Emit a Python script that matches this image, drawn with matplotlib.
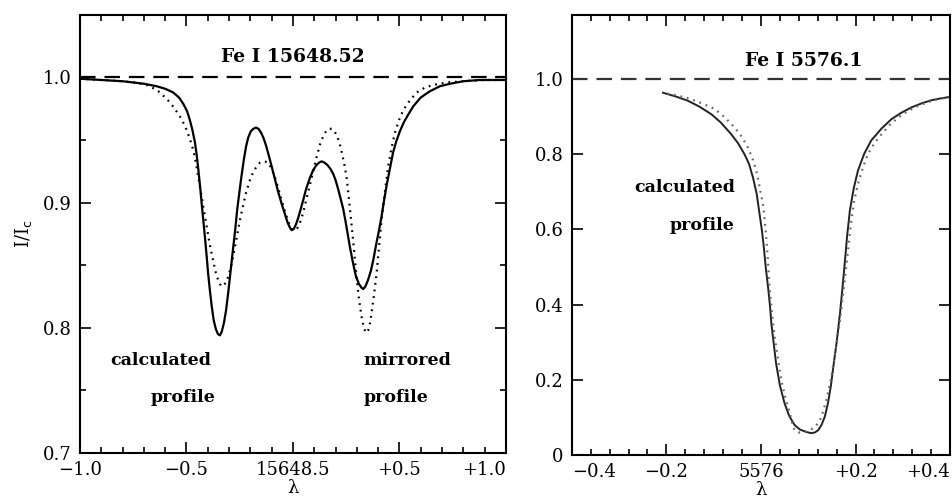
import numpy as np
import matplotlib
matplotlib.use("Agg")
import matplotlib.pyplot as plt
from matplotlib.ticker import MultipleLocator, FixedLocator

plt.rcParams['font.family'] = ['DejaVu Serif']
plt.rcParams['font.size'] = 13

# Fe I 15648.52 -- calculated profile (solid)
fe15_calc_x = [-1.0, -0.9, -0.8, -0.7, -0.64, -0.6, -0.562, -0.535, -0.515, -0.497, -0.484,
               -0.472, -0.46, -0.452, -0.444, -0.436, -0.429, -0.421, -0.413, -0.405, -0.398,
               -0.39, -0.382, -0.372, -0.362, -0.352, -0.343, -0.334, -0.324, -0.314, -0.304,
               -0.293, -0.282, -0.272, -0.262, -0.251, -0.241, -0.23, -0.22, -0.21, -0.198,
               -0.186, -0.174, -0.162, -0.15, -0.139, -0.127, -0.114, -0.1, -0.085, -0.07,
               -0.053, -0.038, -0.025, -0.014, -0.006, 0.004, 0.015, 0.025, 0.035, 0.048,
               0.062, 0.08, 0.095, 0.11, 0.123, 0.135, 0.148, 0.162, 0.176, 0.189, 0.2,
               0.212, 0.224, 0.236, 0.248, 0.258, 0.268, 0.283, 0.296, 0.31, 0.322, 0.33,
               0.34, 0.352, 0.365, 0.377, 0.39, 0.403, 0.416, 0.428, 0.44, 0.455, 0.47,
               0.485, 0.502, 0.52, 0.54, 0.565, 0.6, 0.643, 0.69, 0.737, 0.8, 0.878, 1.0]
fe15_calc_y = [0.999, 0.998, 0.997, 0.995, 0.993, 0.991, 0.988, 0.984, 0.979, 0.973, 0.966,
               0.958, 0.948, 0.938, 0.926, 0.913, 0.9, 0.886, 0.872, 0.857, 0.843,
               0.83, 0.818, 0.806, 0.799, 0.795, 0.794, 0.797, 0.804, 0.814, 0.828,
               0.845, 0.862, 0.877, 0.894, 0.909, 0.922, 0.935, 0.945, 0.952, 0.957,
               0.959, 0.96, 0.959, 0.956, 0.952, 0.946, 0.938, 0.929, 0.919, 0.909,
               0.899, 0.891, 0.884, 0.88, 0.878, 0.879, 0.883, 0.888, 0.894, 0.902,
               0.911, 0.92, 0.926, 0.93, 0.932, 0.933, 0.932, 0.93, 0.927, 0.923, 0.918,
               0.911, 0.903, 0.895, 0.884, 0.874, 0.864, 0.851, 0.841, 0.835, 0.832, 0.831,
               0.833, 0.838, 0.845, 0.854, 0.866, 0.877, 0.889, 0.902, 0.914, 0.927, 0.94,
               0.949, 0.957, 0.964, 0.97, 0.977, 0.984, 0.989, 0.993, 0.995, 0.997, 0.998, 0.998]

# Fe I 15648.52 -- mirrored profile (dotted)
fe15_mirr_x = [-1.0, -0.9, -0.8, -0.74, -0.687, -0.65, -0.624, -0.6, -0.577, -0.555, -0.531,
               -0.515, -0.499, -0.484, -0.468, -0.455, -0.445, -0.437, -0.426, -0.415, -0.405,
               -0.39, -0.374, -0.362, -0.351, -0.343, -0.335, -0.325, -0.312, -0.3, -0.288,
               -0.275, -0.262, -0.249, -0.235, -0.22, -0.202, -0.185, -0.17, -0.155, -0.135,
               -0.116, -0.1, -0.088, -0.077, -0.058, -0.038, -0.02, -0.005, 0.009, 0.022,
               0.035, 0.048, 0.062, 0.078, 0.095, 0.112, 0.128, 0.142, 0.155, 0.168, 0.182,
               0.195, 0.208, 0.221, 0.232, 0.242, 0.252, 0.264, 0.276, 0.288, 0.299, 0.31,
               0.322, 0.333, 0.343, 0.353, 0.362, 0.369, 0.381, 0.393, 0.405, 0.416, 0.432,
               0.447, 0.463, 0.479, 0.498, 0.518, 0.55, 0.581, 0.62, 0.659, 0.72, 0.8, 0.9, 1.0]
fe15_mirr_y = [0.999, 0.998, 0.997, 0.996, 0.994, 0.991, 0.988, 0.984, 0.98, 0.975, 0.969,
               0.964, 0.958, 0.951, 0.942, 0.931, 0.921, 0.913, 0.902, 0.891, 0.881,
               0.866, 0.853, 0.844, 0.838, 0.835, 0.833, 0.834, 0.837, 0.843, 0.851,
               0.862, 0.874, 0.886, 0.897, 0.908, 0.918, 0.925, 0.929, 0.932, 0.933,
               0.932, 0.927, 0.922, 0.916, 0.905, 0.893, 0.884, 0.879, 0.878, 0.88,
               0.885, 0.892, 0.902, 0.913, 0.925, 0.937, 0.947, 0.953, 0.957, 0.959, 0.959,
               0.957, 0.953, 0.946, 0.938, 0.93, 0.92, 0.901, 0.881, 0.86, 0.84, 0.823,
               0.809, 0.8, 0.796, 0.798, 0.804, 0.812, 0.827, 0.844, 0.866, 0.886, 0.909,
               0.929, 0.944, 0.956, 0.966, 0.974, 0.982, 0.988, 0.992, 0.994, 0.996, 0.997, 0.998, 0.998]

# Fe I 5576.1 -- calculated profile (solid)
fe55_calc_x = [-0.207, -0.18, -0.155, -0.13, -0.105, -0.085, -0.063, -0.048, -0.035, -0.025,
               -0.017, -0.009, -0.003, 0.002, 0.006, 0.01, 0.015, 0.019, 0.022, 0.027, 0.032,
               0.04, 0.05, 0.06, 0.071, 0.082, 0.094, 0.106, 0.114, 0.121, 0.128, 0.135,
               0.142, 0.148, 0.152, 0.16, 0.167, 0.172, 0.177, 0.182, 0.188, 0.196, 0.205,
               0.218, 0.233, 0.255, 0.276, 0.297, 0.318, 0.34, 0.36, 0.38, 0.4]
fe55_calc_y = [0.963, 0.953, 0.942, 0.926, 0.906, 0.884, 0.853, 0.828, 0.8, 0.773,
               0.738, 0.694, 0.641, 0.597, 0.553, 0.5, 0.446, 0.397, 0.349, 0.296, 0.243,
               0.185, 0.137, 0.103, 0.08, 0.068, 0.062, 0.058, 0.06, 0.066, 0.08, 0.102,
               0.14, 0.185, 0.225, 0.3, 0.376, 0.44, 0.508, 0.58, 0.65, 0.708, 0.756,
               0.8, 0.836, 0.868, 0.893, 0.91, 0.924, 0.935, 0.943, 0.948, 0.952]

# Fe I 5576.1 -- dotted profile
fe55_obs_x = [-0.198, -0.175, -0.15, -0.125, -0.098, -0.076, -0.056, -0.04, -0.028, -0.018,
              -0.01, -0.003, 0.004, 0.008, 0.011, 0.015, 0.018, 0.023, 0.029, 0.036, 0.043,
              0.052, 0.061, 0.066, 0.071, 0.08, 0.092, 0.104, 0.114, 0.122, 0.128, 0.138,
              0.149, 0.158, 0.167, 0.174, 0.181, 0.186, 0.191, 0.197, 0.205, 0.215, 0.226,
              0.24, 0.255, 0.272, 0.29, 0.31, 0.332, 0.353, 0.375, 0.4]
fe55_obs_y = [0.961, 0.955, 0.947, 0.935, 0.92, 0.897, 0.871, 0.845, 0.818, 0.789,
              0.756, 0.713, 0.668, 0.623, 0.579, 0.512, 0.446, 0.38, 0.314, 0.255, 0.199,
              0.15, 0.111, 0.085, 0.066, 0.06, 0.061, 0.066, 0.075, 0.086, 0.102, 0.145,
              0.208, 0.28, 0.358, 0.433, 0.508, 0.566, 0.623, 0.675, 0.721, 0.762, 0.8,
              0.829, 0.853, 0.877, 0.897, 0.914, 0.928, 0.938, 0.946, 0.952]

left_xticks = [-1.0, -0.5, 0.0, 0.5, 1.0]
left_xlabels = ['\u22121.0', '\u22120.5', '15648.5', '+0.5', '+1.0']
left_yticks = [0.7, 0.8, 0.9, 1.0]
left_ylabels = ['0.7', '0.8', '0.9', '1.0']
right_xticks = [-0.4, -0.2, 0.0, 0.2, 0.4]
right_xlabels = ['\u22120.4', '\u22120.2', '5576', '+0.2', '+0.4']
right_yticks = [0.0, 0.2, 0.4, 0.6, 0.8, 1.0]
right_ylabels = ['0', '0.2', '0.4', '0.6', '0.8', '1.0']

fig = plt.figure(figsize=(9.53, 5.03), dpi=100)
ax1 = fig.add_axes([0.0839, 0.0994, 0.447, 0.871])
ax2 = fig.add_axes([0.600, 0.0954, 0.397, 0.875])


def style(ax):
    for s in ax.spines.values():
        s.set_linewidth(1.5)
    ax.tick_params(which='both', direction='in', top=True, right=True, width=1.2, labelsize=13)
    ax.tick_params(which='major', length=8, pad=6)
    ax.tick_params(which='minor', length=4)


# left panel
ax1.axhline(1.0, color='black', lw=1.6, dashes=(7, 4))
ax1.plot(fe15_calc_x, fe15_calc_y, color='black', lw=1.6)
ax1.plot(fe15_mirr_x, fe15_mirr_y, color='black', lw=1.6, linestyle=(0, (0.8, 2.2)))
ax1.set_xlim(-1.0, 1.0)
ax1.set_ylim(0.7, 1.05)
ax1.xaxis.set_major_locator(FixedLocator(left_xticks))
ax1.set_xticklabels(left_xlabels)
ax1.xaxis.set_minor_locator(MultipleLocator(0.1))
ax1.yaxis.set_major_locator(FixedLocator(left_yticks))
ax1.set_yticklabels(left_ylabels)
ax1.yaxis.set_minor_locator(MultipleLocator(0.05))
style(ax1)
ax1.get_xticklabels()[-1].set_ha('right')
ax1.set_ylabel(r'I/I$_\mathrm{c}$', fontsize=13, labelpad=6)
ax1.set_xlabel('\u03bb', fontsize=13, labelpad=0)
ax1.text(0.0, 1.016, 'Fe I 15648.52', ha='center', va='center', fontsize=13.5, fontweight='bold')
ax1.text(-0.86, 0.774, 'calculated', ha='left', va='center', fontsize=12.5, fontweight='bold')
ax1.text(-0.67, 0.744, 'profile', ha='left', va='center', fontsize=12.5, fontweight='bold')
ax1.text(0.33, 0.774, 'mirrored', ha='left', va='center', fontsize=12.5, fontweight='bold')
ax1.text(0.33, 0.744, 'profile', ha='left', va='center', fontsize=12.5, fontweight='bold')

# right panel
ax2.axhline(1.0, color='#333333', lw=1.6, dashes=(7, 4))
ax2.plot(fe55_calc_x, fe55_calc_y, color='#222222', lw=1.4)
ax2.plot(fe55_obs_x, fe55_obs_y, color='#666666', lw=1.6, linestyle=(0, (0.8, 2.2)))
ax2.set_xlim(-0.4, 0.4)
ax2.set_ylim(0.0, 1.17)
ax2.xaxis.set_major_locator(FixedLocator(right_xticks))
ax2.set_xticklabels(right_xlabels)
ax2.xaxis.set_minor_locator(MultipleLocator(0.04))
ax2.yaxis.set_major_locator(FixedLocator(right_yticks))
ax2.set_yticklabels(right_ylabels)
style(ax2)
ax2.get_xticklabels()[0].set_ha('left')
ax2.get_xticklabels()[-1].set_ha('right')
ax2.set_xlabel('\u03bb', fontsize=13, labelpad=0)
ax2.text(0.091, 1.048, 'Fe I 5576.1', ha='center', va='center', fontsize=13.5, fontweight='bold')
ax2.text(-0.055, 0.711, 'calculated', ha='right', va='center', fontsize=12.5, fontweight='bold')
ax2.text(-0.055, 0.610, 'profile', ha='right', va='center', fontsize=12.5, fontweight='bold')

fig.savefig('out.png', dpi=100)
